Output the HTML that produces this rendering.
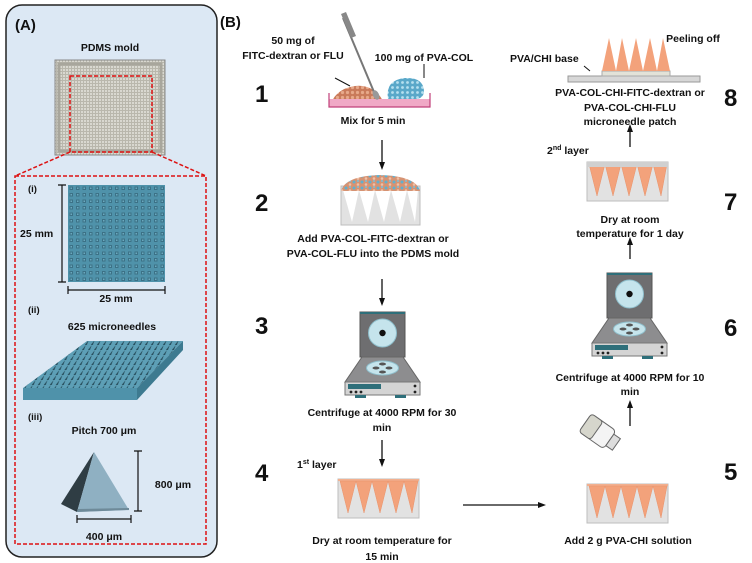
<!DOCTYPE html>
<html><head><meta charset="utf-8"><style>
html,body{margin:0;padding:0;background:#fff;}
svg{display:block;}
text{font-family:"Liberation Sans",sans-serif;font-weight:bold;fill:#111;}
</style></head><body>
<svg width="752" height="563" viewBox="0 0 752 563" xmlns="http://www.w3.org/2000/svg">
<defs>
<pattern id="grid" x="68" y="185" width="6.5" height="6.5" patternUnits="userSpaceOnUse">
<rect width="6.5" height="6.5" fill="#4f92aa"/><rect x="1.5" y="1.5" width="3.5" height="3.5" fill="#3c7186"/><rect x="2.5" y="2.5" width="1.5" height="1.5" fill="#6aa9bf"/></pattern>
<pattern id="spk" width="6" height="5" patternUnits="userSpaceOnUse" patternTransform="skewX(-30)">
<rect width="6" height="5" fill="#5d9fb6"/><path d="M2 5 L3 0 L4 5Z" fill="#274d5c"/></pattern>
<pattern id="orng" width="5" height="5" patternUnits="userSpaceOnUse"><rect width="5" height="5" fill="#c97a5a"/><circle cx="2.5" cy="2.5" r="1.6" fill="#e7a98a"/></pattern>
<pattern id="blue" width="5" height="5" patternUnits="userSpaceOnUse"><rect width="5" height="5" fill="#5aa8c9"/><circle cx="2.5" cy="2.5" r="1.4" fill="#b6e0ef"/></pattern>
<pattern id="mix" width="8" height="6" patternUnits="userSpaceOnUse"><rect width="8" height="6" fill="#d69373"/><circle cx="2" cy="2" r="1.5" fill="#5fb0cf"/><circle cx="6" cy="4.5" r="1.3" fill="#f0c0a6"/><circle cx="6" cy="1" r="1" fill="#7cc0da"/></pattern>
<pattern id="photo" width="3" height="3" patternUnits="userSpaceOnUse"><rect width="3" height="3" fill="#b9b7ac"/><rect width="2" height="2" fill="#d9d8d0"/></pattern>
<marker id="ar" markerWidth="8" markerHeight="8" refX="4" refY="4" orient="auto" markerUnits="userSpaceOnUse"><path d="M0 1 L8 4 L0 7Z" fill="#111"/></marker>
<g id="cf">
<rect x="0" y="0" width="45" height="45" fill="#6e6e70" stroke="#555"/>
<rect x="0" y="0" width="45" height="2" fill="#2e6f7a"/>
<circle cx="22.5" cy="21" r="14" fill="#c5e4ec" stroke="#8fbfcc"/>
<circle cx="22.5" cy="21" r="3.2" fill="#111"/>
<path d="M2 45 L43 45 L60 70 L-15 70Z" fill="#8d8d8f" stroke="#666"/>
<ellipse cx="22.5" cy="56" rx="16" ry="7" fill="#c5e4ec" stroke="#8fbfcc"/>
<ellipse cx="16" cy="56" rx="3.5" ry="1.5" fill="#555"/><ellipse cx="29" cy="56" rx="3.5" ry="1.5" fill="#555"/>
<ellipse cx="22.5" cy="52" rx="3.5" ry="1.5" fill="#555"/><ellipse cx="22.5" cy="60" rx="3.5" ry="1.5" fill="#555"/>
<rect x="-15" y="70" width="75" height="13" fill="#d4d4d4" stroke="#777"/>
<rect x="-12" y="72" width="33" height="5" fill="#2e6f7a"/>
<circle cx="-9" cy="80" r="1.4" fill="#222"/><circle cx="-4" cy="80" r="1.4" fill="#222"/><circle cx="1" cy="80" r="1.4" fill="#222"/>
<circle cx="55" cy="74" r="1.4" fill="#222"/><circle cx="55" cy="80" r="1.4" fill="#222"/>
<rect x="-5" y="83" width="11" height="3" fill="#2e6f7a"/><rect x="35" y="83" width="11" height="3" fill="#2e6f7a"/>
</g>
<g id="mold">
<rect x="0" y="0" width="81" height="39" fill="#e2e2e2" stroke="#bdbdbd"/>
<rect x="0" y="0" width="81" height="2" fill="#f2b08f"/>
<path d="M2 2 L10 34 L18 2 L26 34 L34 2 L42 34 L50 2 L58 34 L66 2 L74 34 L80 2Z" fill="#f3a27b" stroke="#e8916a" stroke-width="0.5"/>
</g>
</defs>

<!-- Panel A -->
<rect x="6" y="5" width="211" height="552" rx="16" fill="#dce8f4" stroke="#222" stroke-width="1.5"/>
<text x="15" y="30" font-size="15">(A)</text>
<text x="110" y="51" font-size="10.5" text-anchor="middle">PDMS mold</text>
<rect x="55" y="60" width="110" height="95" fill="url(#photo)" stroke="#888"/>
<rect x="59" y="64" width="102" height="87" fill="none" stroke="#a8a69c" stroke-width="3"/>
<rect x="70" y="76" width="82" height="76" fill="none" stroke="#d11" stroke-width="1.5" stroke-dasharray="4,2"/>
<path d="M70 152 L15 176 M152 152 L206 176" stroke="#d11" stroke-width="1.5" stroke-dasharray="4,2" fill="none"/>
<rect x="15" y="176" width="191" height="368" fill="none" stroke="#d11" stroke-width="1.5" stroke-dasharray="4,2"/>
<text x="28" y="192" font-size="9.5">(i)</text>
<rect x="68" y="185" width="97" height="97" fill="url(#grid)"/>
<path d="M62 185 V282 M58 185 H66 M58 282 H66 M68 290 H165 M68 286 V294 M165 286 V294" stroke="#111" stroke-width="1.2"/>
<text x="20" y="237" font-size="10.5">25 mm</text>
<text x="116" y="302" font-size="10.5" text-anchor="middle">25 mm</text>
<text x="28" y="313" font-size="9.5">(ii)</text>
<text x="112" y="330" font-size="10.5" text-anchor="middle">625 microneedles</text>
<path d="M23 388 L137 388 L183 341 L87 341Z" fill="url(#spk)"/>
<path d="M23 388 L137 388 L137 400 L23 400Z" fill="#4f92aa"/>
<path d="M137 388 L183 341 L183 350 L137 400Z" fill="#3d7a90"/>
<text x="28" y="420" font-size="9.5">(iii)</text>
<text x="104" y="434" font-size="10.5" text-anchor="middle">Pitch 700 μm</text>
<path d="M94 452 L61 504 L77 512Z" fill="#2f3d44"/>
<path d="M94 452 L77 512 L129 510Z" fill="#8fb0c2"/>
<path d="M77 512 L129 510 L129 508 L78 509Z" fill="#6e8a99"/>
<path d="M138 451 V511 M134 451 H142 M134 511 H142 M77 519 H131 M77 515 V523 M131 515 V523" stroke="#111" stroke-width="1.2"/>
<text x="173" y="488" font-size="10.5" text-anchor="middle">800 μm</text>
<text x="104" y="540" font-size="10.5" text-anchor="middle">400 μm</text>

<!-- Panel B -->
<text x="220" y="27" font-size="15">(B)</text>
<g font-size="24">
<text x="255" y="102">1</text><text x="255" y="211">2</text><text x="255" y="334">3</text><text x="255" y="481">4</text>
<text x="724" y="106">8</text><text x="724" y="210">7</text><text x="724" y="336">6</text><text x="724" y="480">5</text>
</g>
<g font-size="10.5" text-anchor="middle">
<text x="293" y="44">50 mg of</text>
<text x="293" y="59">FITC-dextran or FLU</text>
<text x="424" y="61">100 mg of PVA-COL</text>
<text x="373" y="124">Mix for 5 min</text>
<text x="373" y="242">Add PVA-COL-FITC-dextran or</text>
<text x="373" y="257">PVA-COL-FLU into the PDMS mold</text>
<text x="382" y="416">Centrifuge at 4000 RPM for 30</text>
<text x="382" y="431">min</text>
<text x="382" y="544">Dry at room temperature for</text>
<text x="382" y="560">15 min</text>
<text x="628" y="544">Add 2 g PVA-CHI solution</text>
<text x="630" y="381">Centrifuge at 4000 RPM for 10</text>
<text x="630" y="395">min</text>
<text x="630" y="223">Dry at room</text>
<text x="630" y="237">temperature for 1 day</text>
<text x="630" y="96">PVA-COL-CHI-FITC-dextran or</text>
<text x="630" y="111">PVA-COL-CHI-FLU</text>
<text x="630" y="125">microneedle patch</text>
</g>
<text x="297" y="468" font-size="10.5">1<tspan font-size="7" dy="-4">st</tspan><tspan dy="4"> layer</tspan></text>
<text x="547" y="154" font-size="10.5">2<tspan font-size="7" dy="-4">nd</tspan><tspan dy="4"> layer</tspan></text>
<text x="510" y="62" font-size="10.5">PVA/CHI base</text>
<text x="693" y="42" font-size="10.5" text-anchor="middle">Peeling off</text>

<!-- step 1 -->
<path d="M335 78 L350 86 M424 64 V78" stroke="#111" stroke-width="1"/>
<rect x="329" y="99" width="101" height="8" fill="#f0a9c6"/>
<path d="M329 93 V107 H430 V93" fill="none" stroke="#c0407a" stroke-width="1.2"/>
<path d="M333 99 Q340 88 355 86 Q372 84 382 99Z" fill="url(#orng)"/>
<path d="M388 99 Q385 80 405 78 Q424 77 424 92 Q423 99 415 99Z" fill="url(#blue)"/>
<path d="M343 18 L374 92" stroke="#777" stroke-width="2"/>
<path d="M341 14 L346 12 L356 36 L351 38Z" fill="#888"/>
<ellipse cx="376" cy="95" rx="3" ry="5" fill="#999" transform="rotate(-25 376 95)"/>
<!-- step 2 -->
<rect x="341" y="186" width="79" height="39" fill="#e2e2e2" stroke="#bdbdbd"/>
<path d="M343 190 L352 222 L359 190 L368 222 L375 190 L384 222 L391 190 L400 222 L407 190 L415 222 L418 190Z" fill="#fff"/>
<path d="M341 191 Q345 176 380 175 Q416 176 420 191Z" fill="url(#mix)"/>
<!-- arrows -->
<g stroke="#111" stroke-width="1.3" marker-end="url(#ar)">
<line x1="382" y1="140" x2="382" y2="166"/>
<line x1="382" y1="279" x2="382" y2="302"/>
<line x1="382" y1="440" x2="382" y2="463"/>
<line x1="463" y1="505" x2="542" y2="505"/>
<line x1="630" y1="426" x2="630" y2="404"/>
<line x1="630" y1="259" x2="630" y2="241"/>
<line x1="630" y1="147" x2="630" y2="128"/>
</g>
<use href="#cf" x="360" y="312"/>
<use href="#cf" x="607" y="273"/>
<use href="#mold" x="338" y="479"/>
<use href="#mold" x="587" y="484"/>
<use href="#mold" x="587" y="162"/>
<rect x="587" y="162" width="81" height="5" fill="#d0d0d0"/>
<!-- bottle -->
<g transform="translate(600 433) rotate(35)">
<rect x="-18" y="-11" width="30" height="22" rx="4" fill="#f4f4f4" stroke="#666"/>
<rect x="-18" y="-11" width="14" height="22" rx="3" fill="#d6d6cc" stroke="#666"/>
<rect x="12" y="-7" width="8" height="14" fill="#ddd" stroke="#666"/>
</g>
<!-- step 8 patch -->
<rect x="568" y="76" width="132" height="6" fill="#d7d7d7" stroke="#999"/>
<rect x="602" y="71" width="68" height="5" fill="#e2e2d8" stroke="#aaa"/>
<path d="M602 71 L609 38 L616 71 L622 38 L629 71 L636 38 L643 71 L650 38 L657 71 L663 38 L670 71Z" fill="#f3a27b"/>
<path d="M584 66 L590 71" stroke="#111"/>
</svg>
</body></html>
